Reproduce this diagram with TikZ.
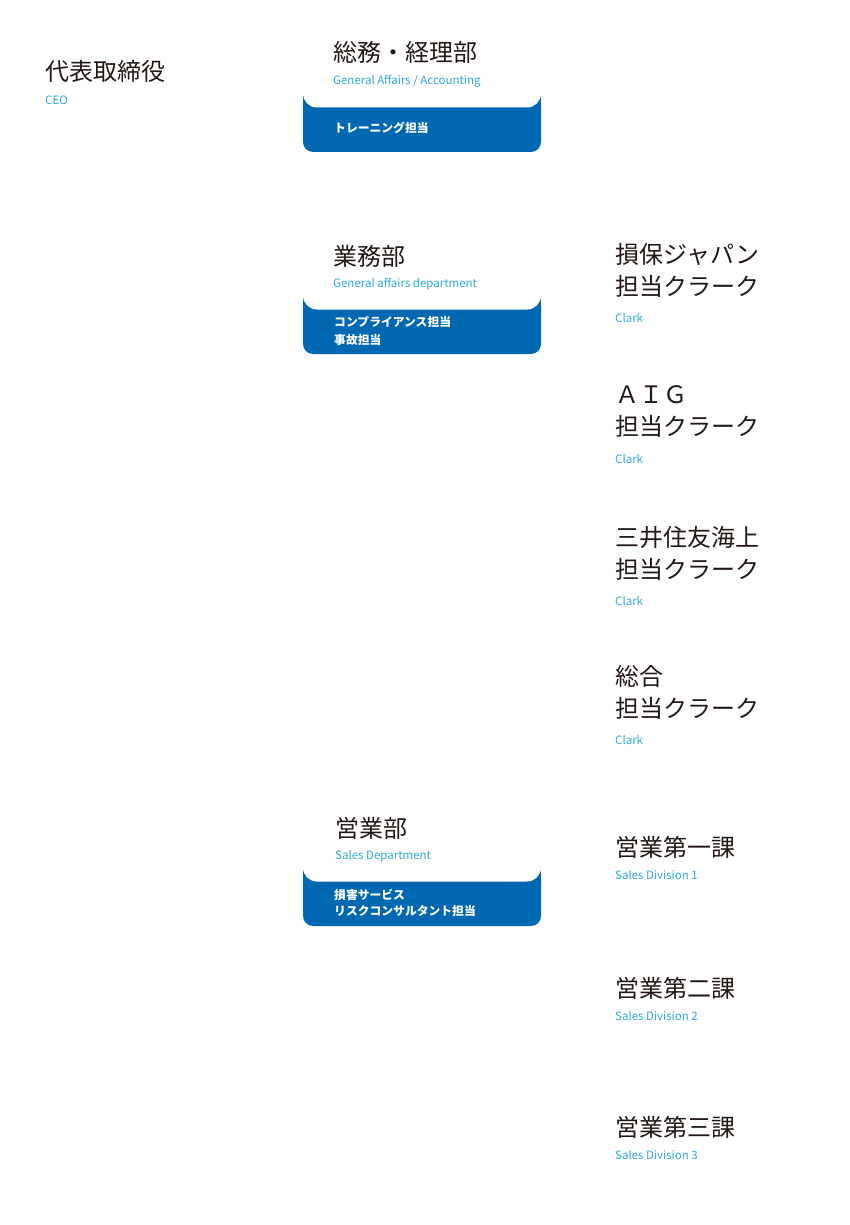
\documentclass[tikz,border=0pt]{standalone}
\usepackage{fontspec}
\setmainfont{Noto Sans CJK JP}
\definecolor{boxblue}{HTML}{0068B0}
\definecolor{encyan}{HTML}{2EA7E0}
\definecolor{jptext}{HTML}{231815}
\tikzset{
  jp/.style={anchor=west,inner sep=0pt,font=\fontsize{24}{28}\selectfont,text=jptext},
  en/.style={anchor=west,inner sep=0pt,font=\fontsize{11.5}{14}\selectfont,text=encyan},
  boxtext/.style={anchor=west,inner sep=0pt,align=left,font=\bfseries\fontsize{11.8}{17.5}\selectfont,text=white},
}
\newcommand{\deptbox}[2]{% top y, bottom y
  \fill[boxblue,rounded corners=10pt] (303,#1) -- (541,#1) -- (541,#2) -- (303,#2) -- cycle;
  \fill[white] (303,#1) rectangle (541,#1+1);
  \fill[boxblue] (303,#1) rectangle (541,#1+12);
  \fill[white,rounded corners=14pt] (303,#1-40) rectangle (541,#1+13.5);
}
\begin{document}
\begin{tikzpicture}[x=1pt,y=-1pt]
\useasboundingbox (0,0) rectangle (850,1225);
% CEO
\node[jp] (ceo) at (45,71) {代表取締役};
\node[en] (ceoen) at (45,100) {CEO};
% General affairs / accounting
\deptbox{94}{152}
\node[jp] (ga) at (333,52) {総務・経理部};
\node[en] (gaen) at (333,81) {General Affairs / Accounting};
\node[boxtext] (gabox) at (334,128) {トレーニング担当};
% General affairs department
\deptbox{296}{354}
\node[jp] (gad) at (333,256) {業務部};
\node[en] (gaden) at (333,284) {General affairs department};
\node[boxtext] (gadbox) at (334,331) {コンプライアンス担当\\事故担当};
% Sales department
\deptbox{868}{926}
\node[jp] (sales) at (335,828) {営業部};
\node[en] (salesen) at (335,856) {Sales Department};
\node[boxtext,font=\bfseries\fontsize{11.8}{16}\selectfont] (salesbox) at (334,903) {損害サービス\\リスクコンサルタント担当};
% Right column
\node[jp,align=left,font=\fontsize{24}{32}\selectfont] (sj) at (615,270) {損保ジャパン\\担当クラーク};
\node[en] (sjen) at (615,318) {Clark};
\node[jp,align=left,font=\fontsize{24}{32}\selectfont] (aig) at (615,412) {ＡＩＧ\\担当クラーク};
\node[en] (aigen) at (615,459) {Clark};
\node[jp,align=left,font=\fontsize{24}{32}\selectfont] (ms) at (615,553) {三井住友海上\\担当クラーク};
\node[en] (msen) at (615,601) {Clark};
\node[jp,align=left,font=\fontsize{24}{32}\selectfont] (gen) at (615,692) {総合\\担当クラーク};
\node[en] (genen) at (615,740) {Clark};
\node[jp] (s1) at (615,847) {営業第一課};
\node[en] (s1en) at (615,875) {Sales Division 1};
\node[jp] (s2) at (615,988) {営業第二課};
\node[en] (s2en) at (615,1016) {Sales Division 2};
\node[jp] (s3) at (615,1127) {営業第三課};
\node[en] (s3en) at (615,1155) {Sales Division 3};
\end{tikzpicture}
\end{document}
